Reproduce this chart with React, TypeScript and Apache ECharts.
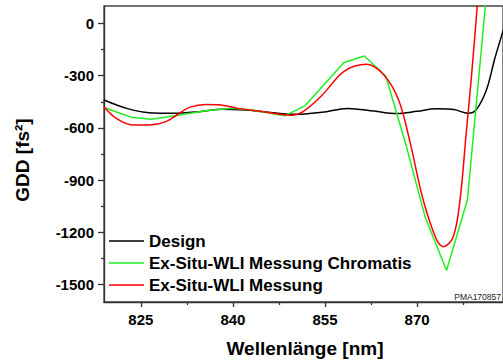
import React, { useEffect, useRef } from "react";
import * as echarts from "echarts";

const seriesNames = ["Design", "Ex-Situ-WLI Messung Chromatis", "Ex-Situ-WLI Messung"];

const designNm = [819.0, 822.7, 826.4, 830.2, 834.5, 838.2, 842.0, 845.0, 850.0, 854.5, 858.7, 863.0, 866.7, 870.0, 873.2, 876.0, 878.3, 879.6, 881.3, 882.6, 883.4, 884.2];
const designGdd = [-440, -488, -513, -516, -507, -493, -497, -507, -522, -510, -488, -503, -518, -505, -490, -495, -516, -497, -382, -210, -114, -20];

const chromNm = [819.0, 821.6, 823.7, 826.7, 831.3, 835.6, 839.8, 843.0, 848.5, 851.7, 858.1, 861.4, 864.9, 868.2, 871.3, 874.8, 878.2, 881.6];
const chromGdd = [-483, -516, -541, -551, -526, -501, -487, -497, -530, -474, -224, -187, -302, -698, -1110, -1419, -1014, 278];

const wliNm = [819.0, 821.0, 823.7, 826.4, 829.1, 831.3, 832.9, 835.6, 837.7, 840.9, 844.2, 849.5, 851.5, 854.6, 858.1, 861.8, 864.6, 867.0, 868.9, 871.0, 873.2, 874.3, 875.9, 877.0, 878.0, 878.8, 879.8, 880.8];
const wliGdd = [-478, -545, -583, -583, -564, -516, -482, -465, -467, -488, -503, -527, -505, -410, -275, -234, -296, -440, -689, -1014, -1244, -1282, -1225, -1014, -631, -330, 100, 560];

const xMajorTicks = [825, 840, 855, 870];
const xMinorTicks = [832.5, 847.5, 862.5, 877.5];
const yMajorTicks = [0, -300, -600, -900, -1200, -1500];
const yMinorTicks = [-150, -450, -750, -1050, -1350];

const X_MIN = 819;
const X_MAX = 884;
const Y_MIN = -1600;
const Y_MAX = 100;

const FONT = '"Liberation Sans", Arial, sans-serif';

function pairs(xs: number[], ys: number[]) {
  return xs.map((x, i) => [x, ys[i]]);
}

export default function App() {
  const ref = useRef<HTMLDivElement>(null);
  useEffect(() => {
    if (!ref.current) return;
    const chart = echarts.init(ref.current, null, { renderer: "svg" });
    const axisLine = { show: true, onZero: false, lineStyle: { color: "#333", width: 1.3 } };
    chart.setOption({
      animation: false,
      backgroundColor: "#fff",
      grid: {
        left: 104,
        top: 6,
        width: 403,
        height: 296,
        show: true,
        borderColor: "#444",
        borderWidth: 1.3,
        containLabel: false,
      },
      legend: {
        data: seriesNames,
        orient: "vertical",
        left: 109,
        top: 231,
        padding: 0,
        icon: "rect",
        itemWidth: 35,
        itemHeight: 1.6,
        itemGap: 2,
        textStyle: { fontFamily: FONT, fontWeight: "bold", fontSize: 17, color: "#000", lineHeight: 20 },
      },
      xAxis: [
        {
          type: "value",
          min: X_MIN,
          max: X_MAX,
          position: "bottom",
          axisLine,
          splitLine: { show: false },
          axisTick: { show: true, customValues: xMajorTicks, length: 5, inside: false, lineStyle: { color: "#333", width: 1.3 } },
          axisLabel: { show: true, customValues: xMajorTicks, margin: 10, fontFamily: FONT, fontWeight: "bold", fontSize: 15, color: "#000", formatter: (v: number) => String(v) },
        },
        {
          type: "value",
          min: X_MIN,
          max: X_MAX,
          position: "bottom",
          axisLine: { show: false, onZero: false },
          splitLine: { show: false },
          axisTick: { show: true, customValues: xMinorTicks, length: 3, lineStyle: { color: "#333", width: 1.3 } },
          axisLabel: { show: false },
        },
      ],
      yAxis: [
        {
          type: "value",
          min: Y_MIN,
          max: Y_MAX,
          position: "left",
          axisLine,
          splitLine: { show: false },
          axisTick: { show: true, customValues: yMajorTicks, length: 6, lineStyle: { color: "#333", width: 1.3 } },
          axisLabel: { show: true, customValues: yMajorTicks, margin: 10, fontFamily: FONT, fontWeight: "bold", fontSize: 15, color: "#000", formatter: (v: number) => String(v) },
        },
        {
          type: "value",
          min: Y_MIN,
          max: Y_MAX,
          position: "left",
          axisLine: { show: false, onZero: false },
          splitLine: { show: false },
          axisTick: { show: true, customValues: yMinorTicks, length: 3, lineStyle: { color: "#333", width: 1.3 } },
          axisLabel: { show: false },
        },
      ],
      series: [
        {
          name: seriesNames[0],
          type: "line",
          data: pairs(designNm, designGdd),
          smooth: 0.35,
          showSymbol: false,
          symbol: "none",
          lineStyle: { color: "#000", width: 1.5 },
          itemStyle: { color: "#000" },
          z: 3,
        },
        {
          name: seriesNames[1],
          type: "line",
          data: pairs(chromNm, chromGdd),
          smooth: false,
          showSymbol: false,
          symbol: "none",
          lineStyle: { color: "#22ee22", width: 1.5 },
          itemStyle: { color: "#22ee22" },
          z: 4,
        },
        {
          name: seriesNames[2],
          type: "line",
          data: pairs(wliNm, wliGdd),
          smooth: 0.35,
          showSymbol: false,
          symbol: "none",
          lineStyle: { color: "#ff0000", width: 1.5 },
          itemStyle: { color: "#ff0000" },
          z: 5,
        },
      ],
      graphic: [
        {
          type: "text",
          x: 22,
          y: 160,
          rotation: Math.PI / 2,
          style: {
            text: "GDD [fs²]",
            font: `bold 19px ${FONT}`,
            fill: "#000",
            align: "center",
            verticalAlign: "middle",
          },
        },
        {
          type: "text",
          x: 305,
          y: 348,
          style: {
            text: "Wellenlänge [nm]",
            font: `bold 19px ${FONT}`,
            fill: "#000",
            align: "center",
            verticalAlign: "middle",
          },
        },
        {
          type: "text",
          right: 2,
          y: 296.5,
          style: {
            text: "PMA170857",
            font: `8.5px ${FONT}`,
            fill: "#222",
            align: "left",
            verticalAlign: "middle",
          },
        },
      ],
    });
    return () => chart.dispose();
  }, []);
  return <div ref={ref} style={{ position: "absolute", left: 0, top: 0, width: 503, height: 363 }} />;
}
